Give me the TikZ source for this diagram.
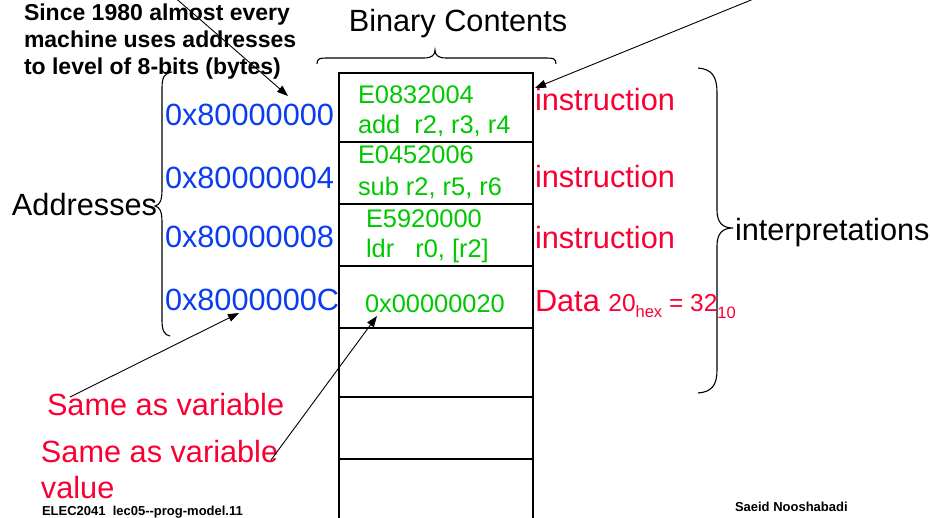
\documentclass[tikz,border=0pt]{standalone}
\usepackage{fontspec}
\setmainfont{Liberation Sans}
\usetikzlibrary{arrows.meta}
\definecolor{addrblue}{RGB}{10,60,240}
\definecolor{codegreen}{RGB}{0,200,0}
\definecolor{notered}{RGB}{250,0,50}
\newcommand{\pxsize}[1]{\fontsize{#1}{#1}\selectfont}
\begin{document}
\begin{tikzpicture}[x=1pt,y=-1pt,
  txt/.style={inner sep=0pt, outer sep=0pt, anchor=base west},
  big/.style={txt, font=\pxsize{30.7}},
  addr/.style={big, text=addrblue},
  code/.style={txt, font=\pxsize{25.4}, text=codegreen},
  interp/.style={big, text=notered},
  note/.style={txt, font=\bfseries\pxsize{23}},
  foot/.style={txt, font=\bfseries\pxsize{13}},
  cell/.style={draw, line width=1.2pt, minimum width=194pt, inner sep=0pt,
    outer sep=0pt, anchor=north west},
  bracecurve/.style={line width=1.1pt},
  pointer/.style={line width=0.9pt, -{Triangle[length=11pt,width=8pt]}}]
\useasboundingbox (0,0) rectangle (930,518);
\clip (0,0) rectangle (930,518);

% memory column
\node[cell, minimum height=69pt] (c1) at (339,73) {};
\node[cell, minimum height=62pt] (c2) at (c1.south west) {};
\node[cell, minimum height=62pt] (c3) at (c2.south west) {};
\node[cell, minimum height=62pt] (c4) at (c3.south west) {};
\node[cell, minimum height=69pt] (c5) at (c4.south west) {};
\node[cell, minimum height=62pt] (c6) at (c5.south west) {};
\node[cell, minimum height=72pt] (c7) at (c6.south west) {};

% contents of the words
\node[code] (w1a) at (358,104) {E0832004};
\node[code] (w1b) at (358,134) {add\ \ r2, r3, r4};
\node[code] (w2a) at (358,164) {E0452006};
\node[code] (w2b) at (358,196) {sub r2, r5, r6};
\node[code] (w3a) at (366,228) {E5920000};
\node[code] (w3b) at (366,258) {ldr\ \ \ r0, [r2]};
\node[code] (w4) at (365,313) {0x00000020};

% addresses
\node[addr] (a0) at (165,126) {0x80000000};
\node[addr] (a4) at (165,189) {0x80000004};
\node[addr] (a8) at (165,248) {0x80000008};
\node[addr] (aC) at (165,311) {0x8000000C};

% interpretations
\node[interp] (i1) at (535,111) {instruction};
\node[interp] (i2) at (535,188) {instruction};
\node[interp] (i3) at (535,249) {instruction};
\node[txt, text=notered] (dat) at (535,312)
  {{\pxsize{30.7}Data }{\pxsize{24.5}20}\raisebox{-6pt}{\pxsize{16.5}hex}{\pxsize{24.5} = 32}\raisebox{-7pt}{\pxsize{16.5}10}};

% headings
\node[big, anchor=base] (bin) at (458,32) {Binary Contents};
\node[big] (adr) at (12,216) {Addresses};
\node[big] (intp) at (735,241) {interpretations};

% notes
\node[note] (n1) at (24,21) {Since 1980 almost every};
\node[note] (n2) at (24,48) {machine uses addresses};
\node[note] (n3) at (24,75) {to level of 8-bits (bytes)};
\node[interp] (sv1) at (47,416) {Same as variable};
\node[interp] (sv2) at (41,463) {Same as variable};
\node[interp] (sv3) at (41,499) {value};

% footer
\node[foot] (f1) at (42,516) {ELEC2041\ \ lec05-{}-prog-model.11};
\node[foot] (f2) at (735,512) {Saeid Nooshabadi};

% braces
\draw[bracecurve] (317,64) .. controls (317,58) and (320,58) .. (330,58)
  -- (424,58) .. controls (432,58) and (435,55) .. (435,50)
  .. controls (435,55) and (438,58) .. (446,58)
  -- (543,58) .. controls (553,58) and (556,58) .. (556,64);
\draw[bracecurve] (172,72) .. controls (164,73) and (162,78) .. (162,88)
  -- (162,190) .. controls (162,200) and (160,205) .. (155,206)
  .. controls (160,207) and (162,212) .. (162,222)
  -- (162,320) .. controls (162,330) and (164,335) .. (170,336);
\draw[bracecurve] (698,68) .. controls (712,69) and (717,77) .. (717,92)
  -- (717,210) .. controls (717,222) and (722,228) .. (733,228)
  .. controls (722,228) and (717,234) .. (717,246)
  -- (717,370) .. controls (717,385) and (712,392) .. (698,393);

% pointers
\coordinate (p1s) at (756,-2);
\coordinate (p1e) at (535,88);
\coordinate (p2s) at (172,-5);
\coordinate (p2e) at (288,96);
\coordinate (p3s) at (70,397);
\coordinate (p3e) at (239,313);
\coordinate (p4s) at (271,460);
\coordinate (p4e) at (377,316);
\draw[pointer] (p1s) -- (p1e);
\draw[pointer] (p2s) -- (p2e);
\draw[pointer] (p3s) -- (p3e);
\draw[pointer] (p4s) -- (p4e);
\end{tikzpicture}
\end{document}
